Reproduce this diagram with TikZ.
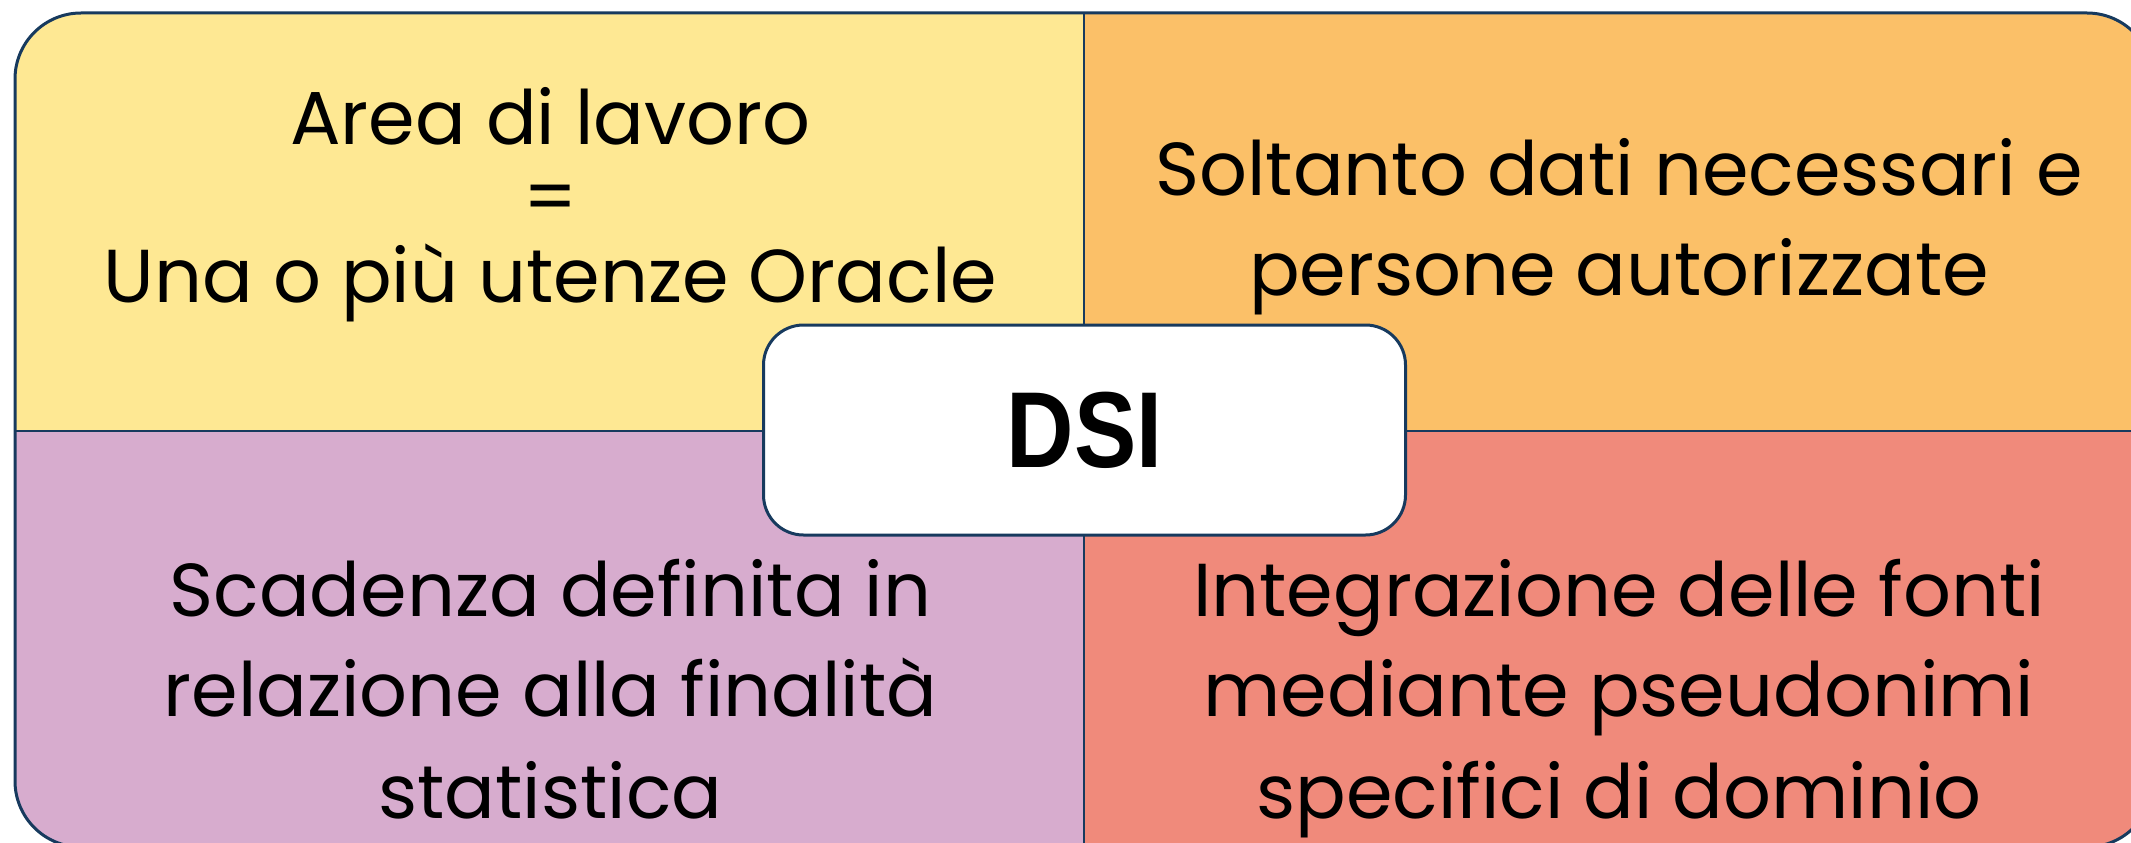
\documentclass[tikz,border=0pt]{standalone}
\usepackage{fontspec}
\setmainfont{Poppins}
\newfontfamily\dsifont{Liberation Sans}[BoldFont={Liberation Sans Bold}]
\definecolor{cyellow}{HTML}{FEE893}
\definecolor{corange}{HTML}{FBC068}
\definecolor{cpurple}{HTML}{D7ACCE}
\definecolor{csalmon}{HTML}{F08A7B}
\definecolor{cnavy}{HTML}{173A5E}
\tikzset{
  outline/.style={draw=cnavy, line width=3pt},
  divider/.style={draw=cnavy, line width=2pt},
  dsibox/.style={rectangle, draw=cnavy, fill=white, line width=3pt,
    minimum width=642pt, minimum height=210pt, inner sep=0pt,
    rounded corners=40pt, font=\dsifont\bfseries\fontsize{108}{110}\selectfont},
  txt/.style={anchor=base, inner sep=0pt, font=\fontsize{75}{79}\selectfont, text=black}
}
\begin{document}
\begin{tikzpicture}[x=1pt,y=-1pt]
\useasboundingbox (0,0) rectangle (2131,843);
\clip (0,0) rectangle (2131,843);
\begin{scope}
  \clip[rounded corners=66pt] (15,13) rectangle (2153,847);
  \fill[cyellow] (15,13) rectangle (1084,431);
  \fill[corange] (1084,13) rectangle (2153,431);
  \fill[cpurple] (15,431) rectangle (1084,847);
  \fill[csalmon] (1084,431) rectangle (2153,847);
\end{scope}
\coordinate (vt) at (1084,13);
\coordinate (vb) at (1084,847);
\coordinate (hl) at (15,431);
\coordinate (hr) at (2153,431);
\draw[divider] (vt) -- (vb);
\draw[divider] (hl) -- (hr);
\draw[outline, rounded corners=66pt] (15,13) rectangle (2153,847);

\node[txt] (tl1) at (550.5,144) {Area di lavoro};
\node[txt] (tl2) at (550.5,223) {=};
\node[txt] (tl3) at (550.5,302) {Una o più utenze Oracle};

\node[txt] (tr1) at (1619,195) {Soltanto dati necessari e};
\node[txt] (tr2) at (1619,295) {persone autorizzate};

\node[txt] (bl1) at (550.5,616) {Scadenza definita in};
\node[txt] (bl2) at (550.5,716) {relazione alla finalità};
\node[txt] (bl3) at (550.5,818) {statistica};

\node[txt] (br1) at (1619,616) {Integrazione delle fonti};
\node[txt] (br2) at (1619,716) {mediante pseudonimi};
\node[txt] (br3) at (1619,818) {specifici di dominio};

\node[dsibox] (dsi) at (1084.5,430) {\scalebox{0.865}[1]{DSI}};
\end{tikzpicture}
\end{document}
